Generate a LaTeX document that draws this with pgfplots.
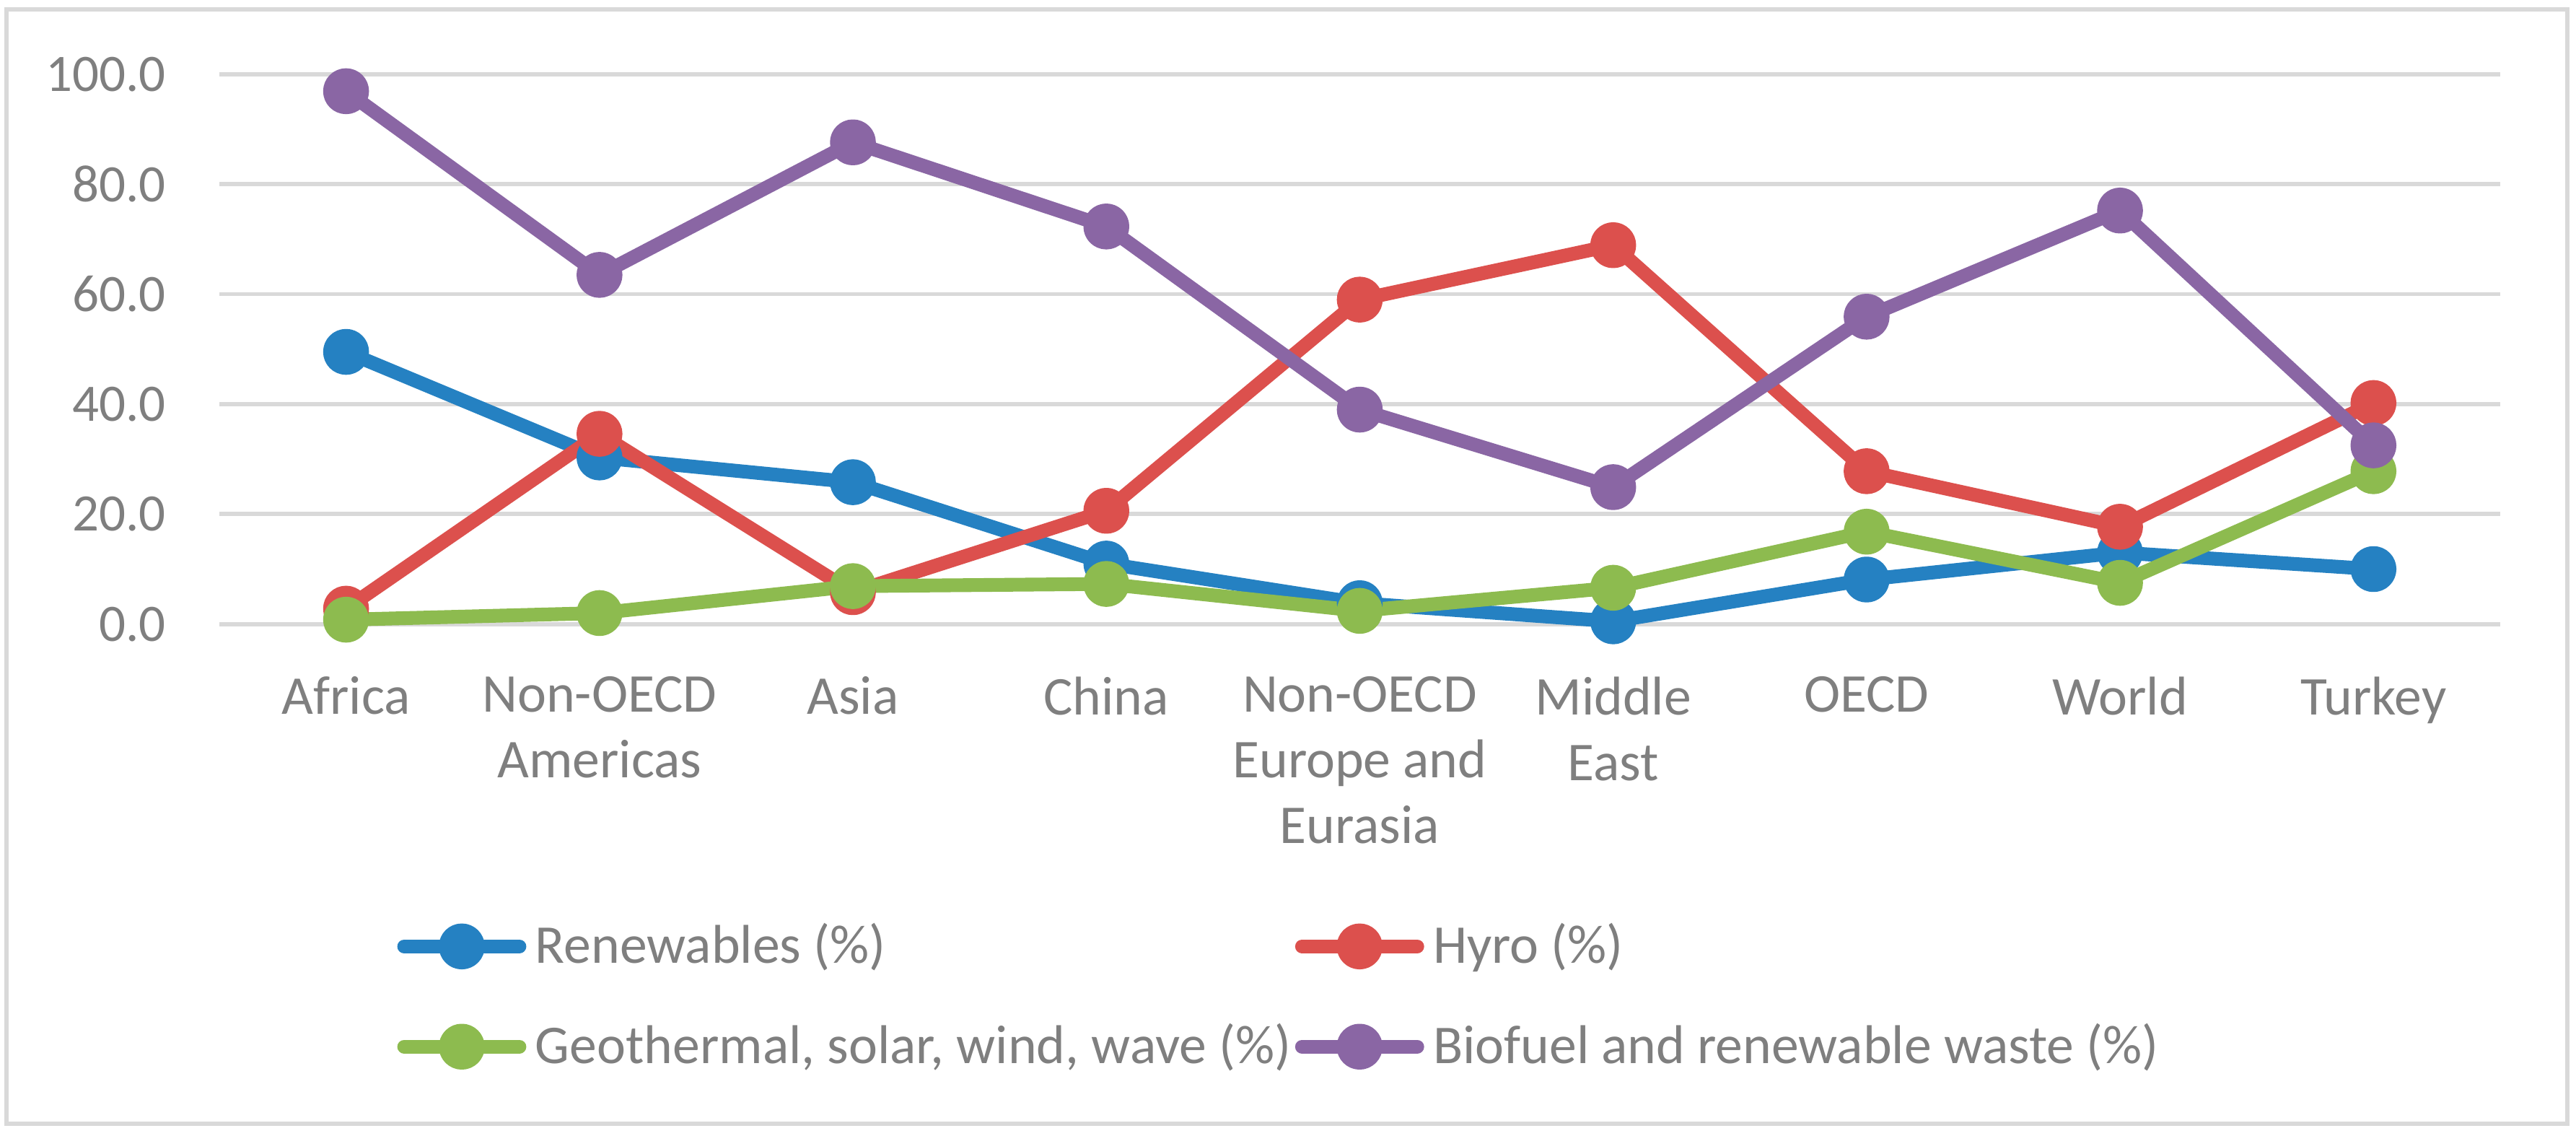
\documentclass[border=0pt]{standalone}
\usepackage{fontspec}
\setmainfont{Carlito}
\usepackage{pgfplots}
\pgfplotsset{compat=1.18}
\definecolor{cBlue}{HTML}{2581C2}
\definecolor{cRed}{HTML}{DC504D}
\definecolor{cGreen}{HTML}{8DBB4F}
\definecolor{cPurple}{HTML}{8A66A4}
\definecolor{gridgray}{HTML}{D9D9D9}
\definecolor{textgray}{HTML}{7F7F7F}
\newcommand{\chartfont}{\fontsize{10.5}{13.1}\selectfont}
\newcommand{\labfont}{\fontsize{10.9}{13.1}\selectfont}
\newcommand{\lentry}[1]{\makebox[153.4pt][l]{\hspace*{1.8pt}#1}}
\begin{document}
\chartfont
\begin{tikzpicture}
\path[use as bounding box] (0,0) rectangle (514pt,226.6pt);
\draw[draw=gridgray, line width=0.8pt] (1.3pt,2.4pt) rectangle (512.3pt,224.7pt);
\begin{axis}[
  at={(43.77pt,102.1pt)}, anchor=south west,
  scale only axis, width=455.1pt, height=109.7pt,
  xmin=-0.5, xmax=8.5, ymin=0, ymax=100,
  clip=false,
  axis line style={draw=none},
  major tick length=0pt,
  ymajorgrids, xmajorgrids=false,
  grid style={draw=gridgray, line width=0.85pt},
  ytick={0,20,40,60,80,100},
  xtick={0,1,2,3,4,5,6,7,8},
  xticklabels={Africa,{Non-OECD\\Americas},Asia,China,{Non-OECD\\Europe and\\Eurasia},{Middle\\East},OECD,World,Turkey},
  xticklabel style={align=center, anchor=north, inner sep=0pt, yshift=-10.3pt, text=textgray, font=\labfont},
  yticklabel style={anchor=east, inner sep=0pt, xshift=-10.5pt, text=textgray, font=\chartfont,
    /pgf/number format/.cd, fixed, fixed zerofill, precision=1, assume math mode=true},
  every axis plot/.append style={line width=2.75pt, line join=round, line cap=round, mark=*, mark size=3.2pt},
  legend image code/.code={\draw[mark repeat=2,mark phase=2,#1] plot coordinates {(0pt,0pt) (11.5pt,0pt) (23pt,0pt)};},
  legend columns=2,
  legend cell align=left,
  legend style={draw=none, fill=none, inner sep=0pt, outer sep=0pt, row sep=10pt, column sep=0pt,
    at={(0.0780,-0.5406)}, anchor=north west,
    nodes={inner sep=0pt, text=textgray, font=\labfont, text height=8.3pt, text depth=1.7pt}},
]
\addplot[color=cBlue, mark options={draw=none, fill=cBlue}] coordinates {
  (0,49.5) (1,30.3) (2,25.8) (3,11.0) (4,3.8) (5,0.5) (6,8.1) (7,13.0) (8,10.0)};
\addlegendentry{\lentry{Renewables (\%)}}
\addplot[color=cRed, mark options={draw=none, fill=cRed}] coordinates {
  (0,2.8) (1,34.6) (2,5.8) (3,20.6) (4,59.0) (5,68.9) (6,27.8) (7,17.7) (8,40.2)};
\addlegendentry{\lentry{Hyro (\%)}}
\addplot[color=cGreen, mark options={draw=none, fill=cGreen}] coordinates {
  (0,0.8) (1,2.0) (2,6.9) (3,7.3) (4,2.4) (5,6.6) (6,16.8) (7,7.5) (8,27.8)};
\addlegendentry{\lentry{Geothermal, solar, wind, wave (\%)}}
\addplot[color=cPurple, mark options={draw=none, fill=cPurple}] coordinates {
  (0,96.9) (1,63.5) (2,87.6) (3,72.3) (4,39.0) (5,24.9) (6,55.9) (7,75.2) (8,32.5)};
\addlegendentry{\lentry{Biofuel and renewable waste (\%)}}
\end{axis}
\end{tikzpicture}
\end{document}
